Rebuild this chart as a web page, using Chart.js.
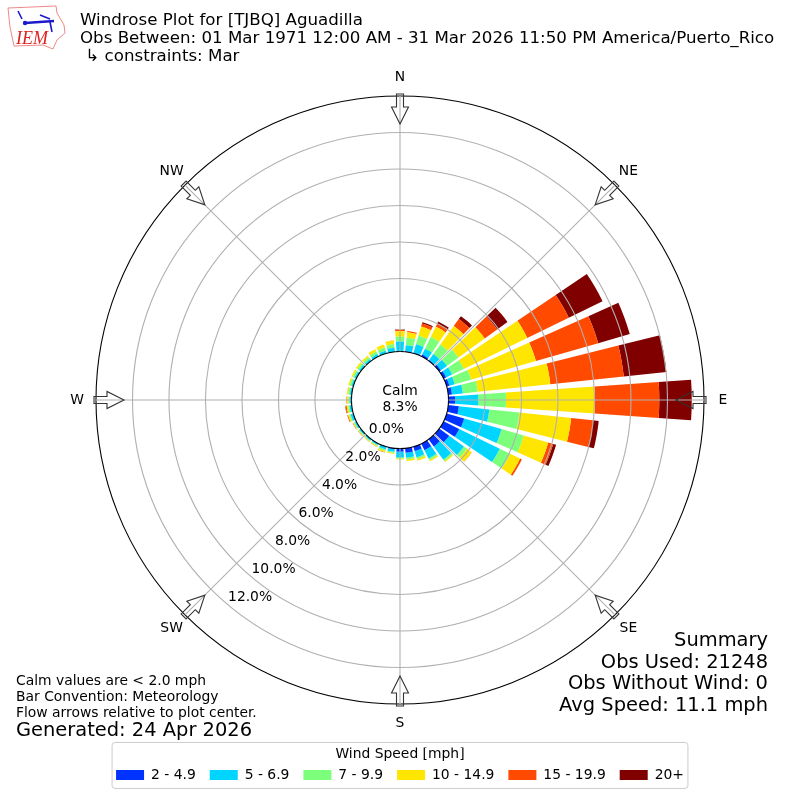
<!doctype html>
<html>
<head>
    <title>Windrose Plot</title>
    <meta charset="utf-8">
    <style>
        body {
            background: #fff;
            color: #000;
            font-family: "DejaVu Sans", sans-serif;
            margin: 0;
        }

        .page {
            height: 800px;
            position: relative;
            width: 800px;
        }

        .page > div, .logo {
            position: absolute;
            white-space: pre;
        }

        .title {
            font-size: 16.67px;
            left: 80px;
            line-height: 18px;
            top: 11px;
        }

        .notes {
            font-size: 13.89px;
            left: 16px;
            line-height: 16px;
            top: 672px;
        }

        .generated {
            font-size: 19.44px;
            left: 16px;
            line-height: 22px;
            top: 719px;
        }

        .summary {
            font-size: 19.44px;
            line-height: 21.7px;
            right: 32px;
            text-align: right;
            top: 629px;
        }
    </style>
    <script src="https://cdn.jsdelivr.net/npm/chart.js@4"></script>
</head>
<body>
<div class="page">
    <canvas id="chart" width="800" height="800"></canvas>
    <div class="title">Windrose Plot for [TJBQ] Aguadilla
Obs Between: 01 Mar 1971 12:00 AM - 31 Mar 2026 11:50 PM America/Puerto_Rico
 ↳ constraints: Mar</div>
    <div class="notes">Calm values are &lt; 2.0 mph
Bar Convention: Meteorology
Flow arrows relative to plot center.</div>
    <div class="generated">Generated: 24 Apr 2026</div>
    <div class="summary">Summary
Obs Used: 21248
Obs Without Wind: 0
Avg Speed: 11.1 mph</div>
    <svg class="logo" style="left:0;top:0" width="70" height="56" viewBox="0 0 70 56">
        <path d="M8 8 L56 6 L57 13 L64 25 L65 33 L57 40 L53 49 L43 45 L14 46 L10 27 Z" fill="#fff" stroke="#e88" stroke-width="1"/>
        <path d="M25 23 L54 21" fill="none" stroke="#1a1acc" stroke-width="2.5"/>
        <path d="M18 11 L22 19 M40 15 L50 19 M50 22 L52 32" fill="none" stroke="#1a1acc" stroke-width="1.6"/>
        <circle cx="25" cy="23" r="2.2" fill="#1a1acc"/>
        <text x="16" y="44" fill="#d22" font-family="Liberation Serif" font-style="italic" font-size="18">IEM</text>
    </svg>
</div>
<script>
    "use strict";

    // one entry per 10 degree bin, starting at north and going clockwise
    const bearings = [
        "0", "10", "20", "30", "40", "50", "60", "70", "80",
        "90", "100", "110", "120", "130", "140", "150", "160", "170",
        "180", "190", "200", "210", "220", "230", "240", "250", "260",
        "270", "280", "290", "300", "310", "320", "330", "340", "350",
    ];

    const speed2to5 = [
        0.02, 0.02, 0.03, 0.11, 0.05, 0.12, 0.15, 0.16, 0.20,
        0.36, 0.58, 1.00, 0.95, 0.67, 0.49, 0.40, 0.25, 0.25,
        0.17, 0.05, 0.02, 0, 0, 0, 0, 0.02, 0,
        0, 0, 0, 0, 0, 0, 0, 0, 0,
    ];
    const speed5to7 = [
        0.52, 0.34, 0.49, 0.36, 0.40, 0.40, 0.37, 0.30, 0.60,
        1.27, 1.68, 2.13, 2.47, 1.00, 0.89, 0.50, 0.35, 0.27,
        0.32, 0.14, 0.14, 0.09, 0.09, 0.09, 0.10, 0.13, 0.12,
        0.10, 0.10, 0.11, 0.12, 0.12, 0.12, 0.14, 0.15, 0.22,
    ];
    const speed7to10 = [
        0.27, 0.41, 0.48, 0.71, 0.65, 0.78, 0.71, 0.93, 0.82,
        1.52, 1.66, 1.26, 0.64, 0.20, 0.09, 0.10, 0.10, 0.10,
        0.05, 0.06, 0.08, 0.05, 0.04, 0.05, 0.05, 0.08, 0.08,
        0.07, 0.09, 0.10, 0.10, 0.11, 0.12, 0.15, 0.18, 0.20,
    ];
    const speed10to15 = [
        0.31, 0.30, 0.53, 0.63, 1.25, 1.78, 3.87, 3.70, 4.00,
        4.88, 2.85, 1.40, 0.60, 0.33, 0.07, 0.07, 0.10, 0.09,
        0.06, 0.06, 0.08, 0.05, 0.04, 0.04, 0.05, 0.07, 0.08,
        0.07, 0.07, 0.08, 0.09, 0.10, 0.10, 0.15, 0.17, 0.20,
    ];
    const speed15to20 = [
        0.07, 0.07, 0.17, 0.19, 0.47, 0.84, 2.53, 3.55, 4.05,
        3.52, 1.20, 0.28, 0.11, 0.02, 0, 0, 0, 0,
        0, 0, 0.02, 0.01, 0.01, 0.02, 0.03, 0.05, 0.06,
        0.03, 0.01, 0, 0, 0, 0, 0, 0, 0.01,
    ];
    const speed20up = [
        0.02, 0, 0.07, 0.12, 0.20, 0.70, 2.06, 1.80, 2.35,
        1.78, 0.32, 0.17, 0, 0, 0, 0, 0, 0,
        0, 0, 0, 0, 0, 0, 0, 0, 0.02,
        0, 0, 0, 0, 0, 0, 0, 0, 0,
    ];

    const speedLabels = ["2 - 4.9", "5 - 6.9", "7 - 9.9", "10 - 14.9", "15 - 19.9", "20+"];
    const speedColors = ["#0033ff", "#00d5ff", "#7cff7a", "#ffe600", "#ff4a00", "#800000"];
    const speedSeries = [speed2to5, speed5to7, speed7to10, speed10to15, speed15to20, speed20up];

    const tickValues = [0, 2, 4, 6, 8, 10, 12, 14];
    const tickLabels = ["0.0%", "2.0%", "4.0%", "6.0%", "8.0%", "10.0%", "12.0%"];
    const compassLabels = ["N", "NE", "E", "SE", "S", "SW", "W", "NW"];
    const compassBearings = [0, 45, 90, 135, 180, 225, 270, 315];
    const calmLabel = "Calm";
    const calmValue = "8.3%";

    const axisMin = -2.66;
    const axisMax = 14;
    const barWidthDegrees = 8;
    const tickLabelBearing = 220;
    const fontName = '"DejaVu Sans"';

    // polar area, but the bars stack outward and do not fill the whole bin
    class WindroseController extends Chart.PolarAreaController {
        updateElements(arcs, start, count, mode) {
            const scale = this.chart.scales.r;
            const datasets = this.chart.data.datasets;
            const halfWidth = barWidthDegrees * Math.PI / 360;

            for (let i = start; i < start + count; i++) {
                let base = 0;
                for (let j = 0; j < this.index; j++) {
                    base += datasets[j].data[i];
                }
                const top = base + datasets[this.index].data[i];
                const middle = scale.getIndexAngle(i) - Math.PI / 2;
                this.updateElement(arcs[i], i, {
                    circumference: halfWidth * 2,
                    endAngle: middle + halfWidth,
                    innerRadius: scale.getDistanceFromCenterForValue(base),
                    options: this.resolveDataElementOptions(i, mode),
                    outerRadius: scale.getDistanceFromCenterForValue(top),
                    startAngle: middle - halfWidth,
                    x: scale.xCenter,
                    y: scale.yCenter,
                }, mode);
            }
        }
    }
    WindroseController.id = "windrose";
    Chart.register(WindroseController);

    function drawArrow(ctx, scale, bearing) {
        let outer = scale.getDistanceFromCenterForValue(axisMax) + 2;
        let point = scale.getPointPosition(bearing / 10, outer);
        ctx.save();
        ctx.translate(point.x, point.y);
        ctx.rotate(point.angle);
        ctx.beginPath();
        ctx.moveTo(0, -3.5);
        ctx.lineTo(-13, -3.5);
        ctx.lineTo(-13, -8.5);
        ctx.lineTo(-30, 0);
        ctx.lineTo(-13, 8.5);
        ctx.lineTo(-13, 3.5);
        ctx.lineTo(0, 3.5);
        ctx.closePath();
        ctx.strokeStyle = "#333";
        ctx.lineWidth = 1.1;
        ctx.stroke();
        ctx.restore();
    }

    const windroseDecor = {
        id: "windroseDecor",
        afterDraw(chart) {
            let ctx = chart.ctx;
            let scale = chart.scales.r;
            let inner = scale.getDistanceFromCenterForValue(0);
            let outer = scale.getDistanceFromCenterForValue(axisMax);

            ctx.save();
            // spokes only run from the calm circle to the edge
            ctx.strokeStyle = "#b0b0b0";
            ctx.lineWidth = 1.1;
            compassBearings.forEach(function (bearing) {
                let from = scale.getPointPosition(bearing / 10, inner);
                let to = scale.getPointPosition(bearing / 10, outer);
                ctx.beginPath();
                ctx.moveTo(from.x, from.y);
                ctx.lineTo(to.x, to.y);
                ctx.stroke();
            });

            compassBearings.forEach(function (bearing) {
                drawArrow(ctx, scale, bearing);
            });

            ctx.fillStyle = "#000";
            ctx.font = "13.89px " + fontName;
            ctx.textAlign = "center";
            ctx.textBaseline = "middle";
            compassLabels.forEach(function (label, i) {
                let point = scale.getPointPosition(compassBearings[i] / 10, outer + 19);
                ctx.fillText(label, point.x, point.y);
            });
            ctx.fillText(calmLabel, scale.xCenter, scale.yCenter - 9);
            ctx.fillText(calmValue, scale.xCenter, scale.yCenter + 7);

            ctx.textAlign = "left";
            tickLabels.forEach(function (label, i) {
                let distance = scale.getDistanceFromCenterForValue(tickValues[i]);
                let point = scale.getPointPosition(tickLabelBearing / 10, distance);
                ctx.fillText(label, point.x, point.y - 8);
            });

            // frame round the legend
            let boxes = chart.legend.legendHitBoxes;
            let left = boxes[0].left - 4;
            let last = boxes[boxes.length - 1];
            let right = last.left + last.width + 4;
            ctx.beginPath();
            ctx.roundRect(left, chart.legend.top - 5, right - left, 46, 3);
            ctx.strokeStyle = "#ccc";
            ctx.lineWidth = 1;
            ctx.stroke();
            ctx.restore();
        },
    };

    Chart.defaults.font.family = fontName;
    Chart.defaults.color = "#000";

    new Chart(document.getElementById("chart"), {
        type: "windrose",
        plugins: [windroseDecor],
        data: {
            labels: bearings,
            datasets: speedSeries.map(function (values, i) {
                return {
                    backgroundColor: speedColors[i],
                    borderWidth: 0,
                    data: values,
                    label: speedLabels[i],
                };
            }),
        },
        options: {
            animation: false,
            responsive: false,
            layout: {
                padding: {bottom: 8, left: 96, right: 96, top: 53},
            },
            plugins: {
                tooltip: {enabled: false},
                legend: {
                    display: true,
                    position: "bottom",
                    title: {
                        display: true,
                        font: {size: 13.89},
                        padding: {top: 0, bottom: -10},
                        text: "Wind Speed [mph]",
                    },
                    labels: {
                        boxHeight: 10,
                        boxWidth: 28,
                        font: {size: 13.89},
                        padding: 14,
                        generateLabels: function (chart) {
                            return chart.data.datasets.map(function (dataset, i) {
                                return {
                                    datasetIndex: i,
                                    fillStyle: dataset.backgroundColor,
                                    lineWidth: 0,
                                    text: dataset.label,
                                };
                            });
                        },
                    },
                },
            },
            scales: {
                r: {
                    type: "radialLinear",
                    min: axisMin,
                    max: axisMax,
                    afterBuildTicks: function (scale) {
                        scale.ticks = [axisMin].concat(tickValues).map(function (value) {
                            return {value: value};
                        });
                    },
                    angleLines: {display: false},
                    pointLabels: {display: false},
                    ticks: {display: false},
                    grid: {
                        circular: true,
                        z: 1,
                        lineWidth: 1.1,
                        color: function (context) {
                            let value = context.tick.value;
                            return value === 0 || value === axisMax ? "#000" : "#b0b0b0";
                        },
                    },
                },
            },
        },
    });
</script>
</body>
</html>
